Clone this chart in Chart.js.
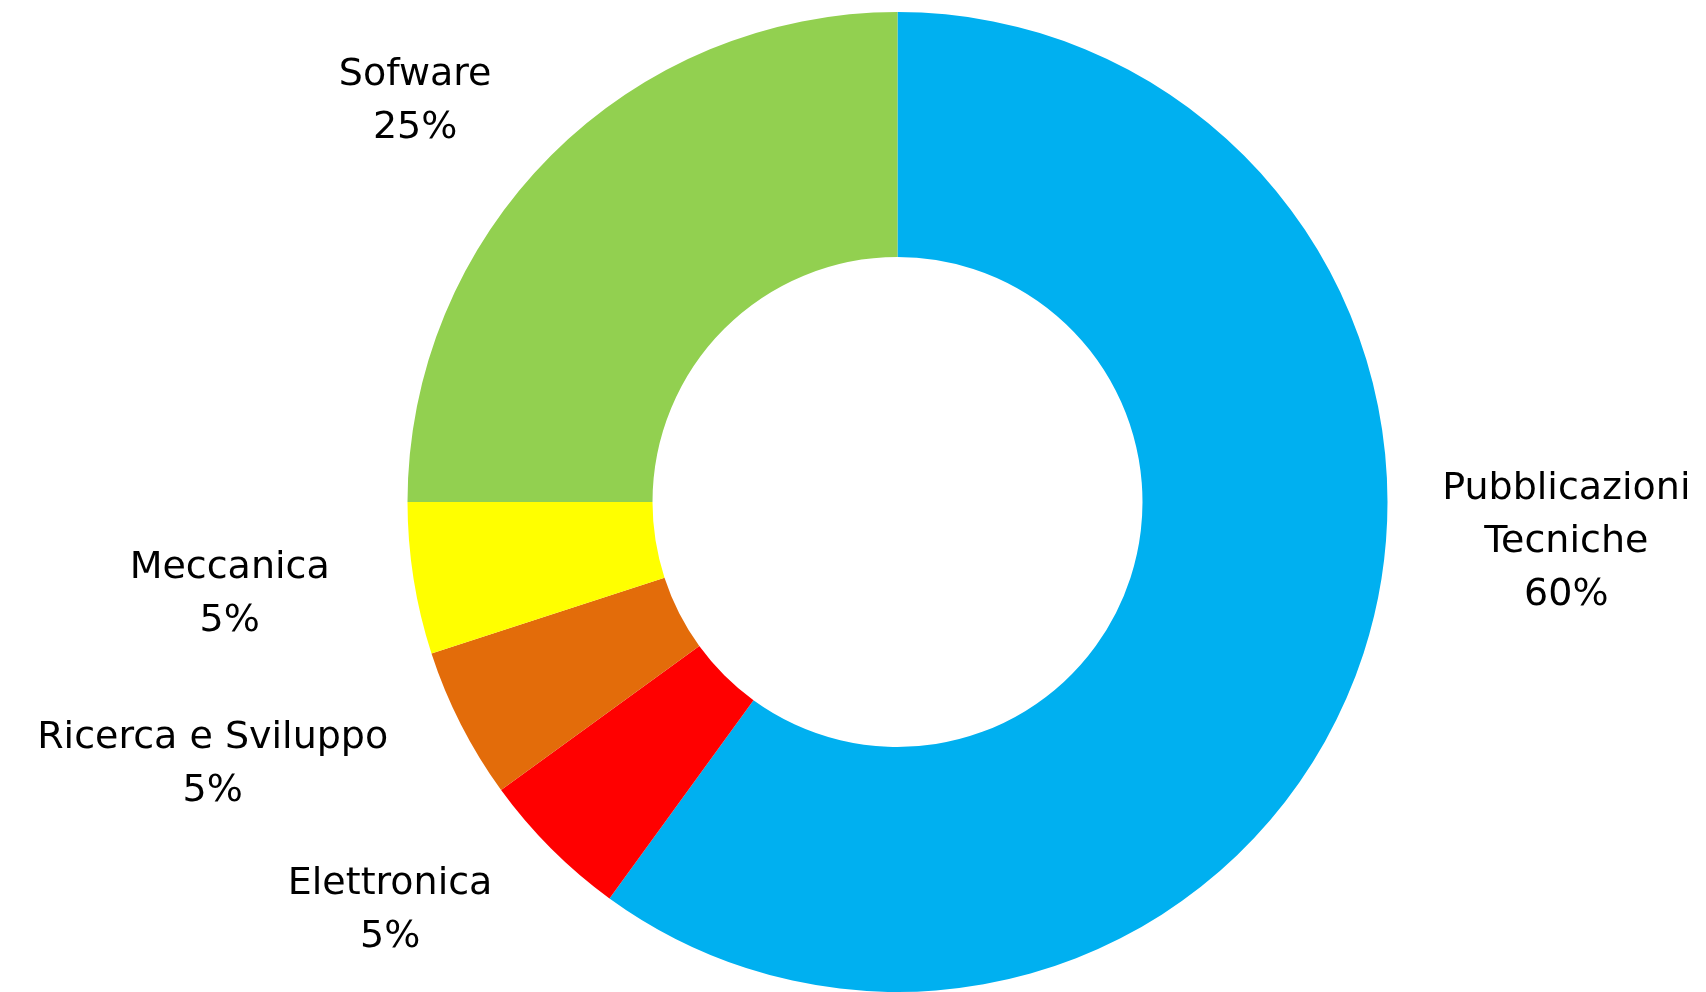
<!DOCTYPE html>
<html>
<head>
<meta charset="utf-8">
<script src="https://cdn.jsdelivr.net/npm/chart.js@4.4.1/dist/chart.umd.min.js"></script>
<style>
  html, body { margin: 0; padding: 0; background: #fff; }
  #wrap { width: 1706px; height: 992px; position: relative; }
</style>
</head>
<body>
<div id="wrap"><canvas id="donut"></canvas></div>
<script>
const categories = ['Pubblicazioni Tecniche', 'Elettronica', 'Ricerca e Sviluppo', 'Meccanica', 'Sofware'];
const shares = [60, 5, 5, 5, 25];
const sliceColors = ['#00B0F0', '#FF0000', '#E36C0A', '#FFFF00', '#92D050'];

// where each label sits: angle (deg, clockwise from 3 o'clock) and distance as a multiple of the outer radius
const labelAngle = [3.1, 141.4, 159.3, 172.4, 220.0];
const labelDist = [1.367, 1.325, 1.494, 1.375, 1.285];

const outsideLabels = {
  id: 'outsideLabels',
  afterDatasetsDraw(chart) {
    const ctx = chart.ctx;
    const arcs = chart.getDatasetMeta(0).data;
    const size = 38;
    const capH = size * 0.729;
    const lineH = 53;
    ctx.save();
    ctx.fillStyle = '#000';
    ctx.font = size + 'px "DejaVu Sans"';
    ctx.textAlign = 'center';
    ctx.textBaseline = 'alphabetic';
    arcs.forEach((arc, i) => {
      const a = labelAngle[i] * Math.PI / 180;
      const d = arc.outerRadius * labelDist[i];
      const cx = arc.x + Math.cos(a) * d;
      const cy = arc.y + Math.sin(a) * d;
      const words = categories[i] === 'Pubblicazioni Tecniche' ? ['Pubblicazioni', 'Tecniche'] : [categories[i]];
      const lines = words.concat([shares[i] + '%']);
      const top = cy - (lines.length - 1) * lineH / 2;
      lines.forEach((t, k) => ctx.fillText(t, cx, top + k * lineH + capH / 2));
    });
    ctx.restore();
  }
};

new Chart(document.getElementById('donut'), {
  type: 'doughnut',
  data: {
    labels: categories,
    datasets: [{
      data: shares,
      backgroundColor: sliceColors,
      borderWidth: 0
    }]
  },
  options: {
    responsive: true,
    maintainAspectRatio: false,
    animation: false,
    cutout: '50%',
    layout: { padding: { left: 89, right: 0, top: 12, bottom: -3 } },
    plugins: {
      legend: { display: false },
      tooltip: { enabled: false }
    }
  },
  plugins: [outsideLabels]
});
</script>
</body>
</html>
